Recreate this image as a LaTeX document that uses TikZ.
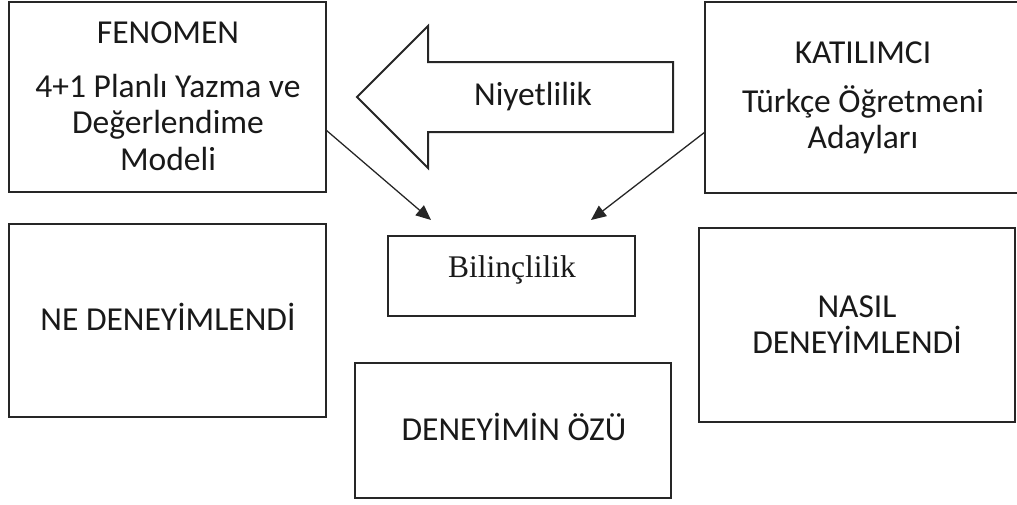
\documentclass[tikz,border=0pt]{standalone}
\usepackage{fontspec}
\setmainfont{Carlito}
\newfontfamily\serifface{Liberation Serif}
\usetikzlibrary{arrows.meta}

\tikzset{
  box/.style={draw=black!85, line width=1.6pt, inner sep=0pt},
  txt/.style={font=\fontsize{33.5}{36}\selectfont, text=black!90, inner sep=0pt, anchor=base},
  conn/.style={draw=black!85, line width=1.3pt, -{Triangle[length=15pt,width=13pt]}},
  bigarrow/.style={draw=black!85, line width=2pt, line join=miter}
}

\begin{document}
\begin{tikzpicture}[x=1pt, y=-1pt]
\useasboundingbox (0,0) rectangle (1017,504);
\clip (0,0) rectangle (1017,504);

% boxes
\draw[box] (9,2) rectangle (326,192) node[pos=0.5] (fen) {};
\draw[box] (705,2) rectangle (1022,193) node[pos=0.5] (kat) {};
\draw[box] (388,236) rectangle (635,316) node[pos=0.5] (bil) {};
\draw[box] (9,224) rectangle (326,417) node[pos=0.5] (ne) {};
\draw[box] (699,228) rectangle (1015,422) node[pos=0.5] (nasil) {};
\draw[box] (355,363) rectangle (671,498) node[pos=0.5] (oz) {};

% texts
\node[txt] (fenT) at (168,43) {FENOMEN};
\node[txt] (fen1) at (168,97) {4+1 Planlı Yazma ve};
\node[txt] (fen2) at (168,133) {Değerlendime};
\node[txt] (fen3) at (168,170) {Modeli};

\node[txt] (katT) at (863,63) {KATILIMCI};
\node[txt] (kat1) at (863,112) {Türkçe Öğretmeni};
\node[txt] (kat2) at (863,148) {Adayları};

\node[txt, font=\serifface\fontsize{31.5}{36}\selectfont] (bilT) at (512,277) {Bilinçlilik};
\node[txt] (neT) at (168,330) {NE DENEYİMLENDİ};
\node[txt] (nasT1) at (857,317) {NASIL};
\node[txt] (nasT2) at (857,353) {DENEYİMLENDİ};
\node[txt] (ozT) at (514,440) {DENEYİMİN ÖZÜ};

% large left-pointing arrow
\draw[bigarrow] (357,97) -- (428,26) -- (428,62) -- (673,62) -- (673,132)
  -- (428,132) -- (428,168) -- cycle;
\node[txt] (niy) at (533,105) {Niyetlilik};

% connectors
\coordinate (fenOut) at (326,130);
\coordinate (katOut) at (705,132);
\coordinate (inL) at (431,220);
\coordinate (inR) at (591,220);
\draw[conn] (fenOut) -- (inL);
\draw[conn] (katOut) -- (inR);
\end{tikzpicture}
\end{document}
